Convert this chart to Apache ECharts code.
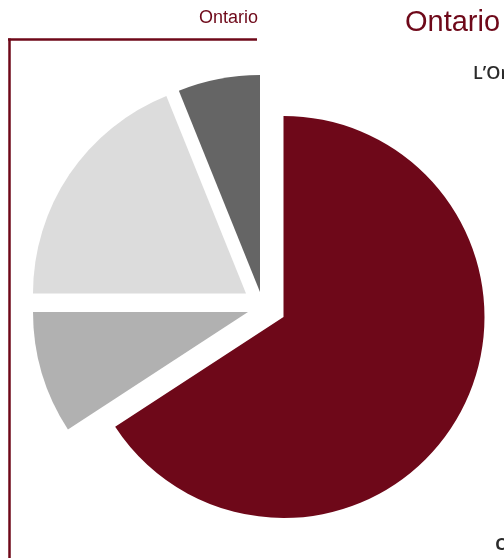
<!DOCTYPE html>
<html>
<head>
<meta charset="utf-8">
<script src="https://cdn.jsdelivr.net/npm/echarts@6/dist/echarts.min.js"></script>
<style>
  html, body { margin: 0; padding: 0; background: #ffffff; }
  #chart { width: 504px; height: 558px; }
</style>
</head>
<body>
<div id="chart"></div>
<script>
// ---- data ----
const categories = ['Segment 1', 'Segment 2', 'Segment 3', 'Segment 4'];
const values = [65.8, 9.2, 18.9, 6.1];
const chartTitle = 'Ontario';
const pageHeading = 'Ontario';
const pageIntro = 'L\u2019Ontario';
const pageFooter = 'c';

// ---- style / layout ----
const colors = ['#6e0819', '#b1b1b1', '#dcdcdc', '#656565'];
const sliceCenters = [[283.5, 317], [248, 312], [246, 293.5], [260, 292]];
const sliceRadii = [201, 215, 213, 217];
const maroon = '#6e0819';

const chart = echarts.init(document.getElementById('chart'), null, { renderer: 'canvas' });

const series = categories.map(function (_, k) {
  return {
    type: 'pie',
    silent: true,
    animation: false,
    center: sliceCenters[k],
    radius: [0, sliceRadii[k]],
    startAngle: 90,
    clockwise: true,
    avoidLabelOverlap: false,
    label: { show: false },
    labelLine: { show: false },
    emphasis: { disabled: true },
    data: categories.map(function (name, i) {
      return {
        name: name,
        value: values[i],
        itemStyle: {
          color: i === k ? colors[i] : 'rgba(0,0,0,0)',
          borderWidth: 0
        }
      };
    }),
    z: 2
  };
});

chart.setOption({
  backgroundColor: '#ffffff',
  animation: false,
  title: {
    text: chartTitle,
    right: 246,
    top: 9,
    padding: 0,
    textStyle: {
      fontFamily: 'Liberation Sans',
      fontSize: 18,
      fontWeight: 'normal',
      color: maroon
    }
  },
  graphic: [
    { type: 'line', shape: { x1: 8, y1: 39.5, x2: 257, y2: 39.5 }, style: { stroke: maroon, lineWidth: 2.5 }, z: 10 },
    { type: 'line', shape: { x1: 9.5, y1: 38.5, x2: 9.5, y2: 558 }, style: { stroke: maroon, lineWidth: 2.5 }, z: 10 },
    { type: 'text', left: 405, top: 8, style: { text: pageHeading, fontFamily: 'Liberation Sans', fontSize: 29, fill: maroon }, z: 10 },
    { type: 'text', left: 473, top: 65, style: { text: pageIntro, fontFamily: 'Open Sans', fontWeight: 600, fontSize: 18, fill: '#2b2b2b' }, z: 10 },
    { type: 'text', left: 495, top: 533, style: { text: pageFooter, fontFamily: 'Open Sans', fontWeight: 600, fontSize: 22, fill: '#2b2b2b' }, z: 10 }
  ],
  series: series
});
</script>
</body>
</html>
